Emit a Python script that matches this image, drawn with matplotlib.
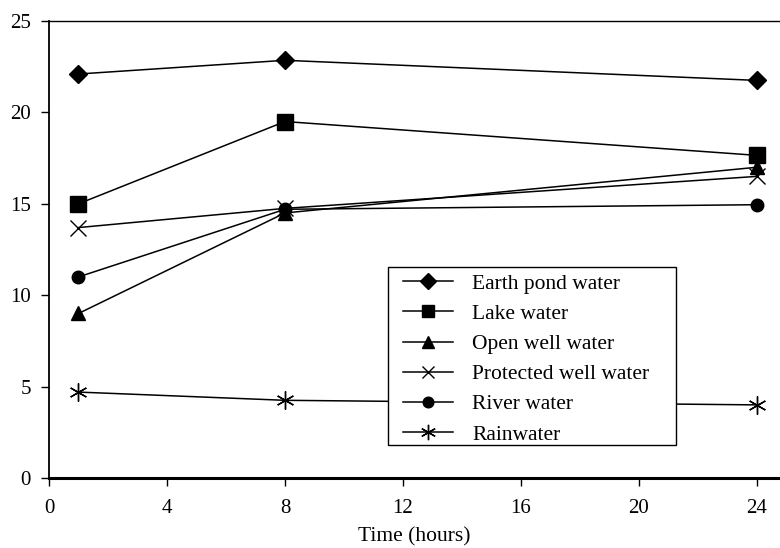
import matplotlib
matplotlib.use("Agg")
import matplotlib.pyplot as plt
from matplotlib.patches import Rectangle

plt.rcParams['font.family'] = ['Liberation Serif', 'DejaVu Serif']

hours = [1, 8, 24]
earth_pond = [22.1, 22.85, 21.75]
lake = [15.0, 19.5, 17.65]
open_well = [9.0, 14.5, 17.0]
protected_well = [13.7, 14.75, 16.5]
river = [11.0, 14.7, 14.95]
rain = [4.7, 4.25, 4.0]

series = [
    ("Earth pond water", earth_pond, "D", 9),
    ("Lake water", lake, "s", 11),
    ("Open well water", open_well, "^", 10),
    ("Protected well water", protected_well, "x", 11),
    ("River water", river, "o", 9),
    ("Rainwater", rain, (6, 2, 0), 13),
]

fig = plt.figure(figsize=(7.8, 5.48), dpi=100)
ax = fig.add_axes([49 / 780, 70 / 548, 731 / 780, 457 / 548])

for name, vals, mk, ms in series:
    ax.plot(hours, vals, color="black", linewidth=1.1, marker=mk,
            markersize=ms, markerfacecolor="black", markeredgecolor="black",
            markeredgewidth=1.0, label=name)

ax.set_xlim(0, 24.78)
ax.set_ylim(0, 25)
ax.set_xticks([0, 4, 8, 12, 16, 20, 24])
ax.set_yticks([0, 5, 10, 15, 20, 25])
ax.tick_params(labelsize=15, direction="out", length=6, width=1)
ax.tick_params(axis="x", pad=9)
ax.tick_params(axis="y", pad=7)
ax.set_xlabel("Time (hours)", fontsize=15.5, labelpad=7)

ax.spines["right"].set_visible(False)
ax.spines["bottom"].set_linewidth(2.2)
ax.spines["left"].set_linewidth(1.3)
ax.spines["top"].set_linewidth(1.0)

# legend frame drawn separately so the box can be wider than the text
ax.add_patch(Rectangle((0.464, 0.072), 0.394, 0.39, transform=ax.transAxes,
                       facecolor="white", edgecolor="black", linewidth=1.0,
                       zorder=4))
leg = ax.legend(loc="upper left", bbox_to_anchor=(0.477, 0.459), fontsize=15.5,
                frameon=False, markerscale=0.85, handlelength=2.3,
                borderpad=0.25, labelspacing=0.47, handletextpad=0.9,
                borderaxespad=0)
leg.set_zorder(5)

fig.savefig("out.png", dpi=100)
